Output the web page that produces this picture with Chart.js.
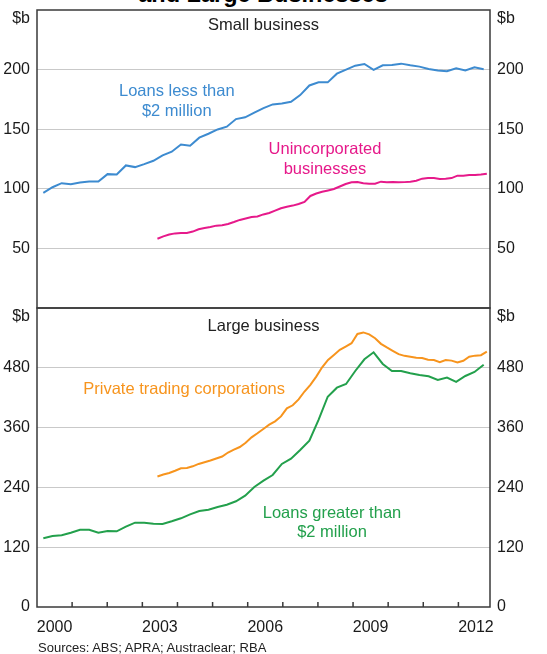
<!DOCTYPE html>
<html lang="en">
<head>
<meta charset="UTF-8">
<title>Business Credit</title>
<script src="https://cdn.jsdelivr.net/npm/chart.js"></script>
<style>
  body { margin: 0; background: #fff; }
  #wrap { position: relative; width: 547px; height: 654px; overflow: hidden; font-family: "Liberation Sans", Arial, sans-serif; }
  #title { position: absolute; left: 0; width: 526px; top: -17px; text-align: center; font-weight: bold; font-size: 23.5px; line-height: 23.5px; color: #000; white-space: nowrap; }
  canvas { position: absolute; left: 0; }
  #top-chart { top: 0; }
  #bottom-chart { top: 298px; }
  #sources { position: absolute; left: 38px; top: 640px; font-size: 13px; line-height: 15px; color: #222; }
</style>
</head>
<body>
<div id="wrap">
  <div id="title">and Large Businesses</div>
  <canvas id="top-chart" width="547" height="310"></canvas>
  <canvas id="bottom-chart" width="547" height="356"></canvas>
  <div id="sources">Sources: ABS; APRA; Austraclear; RBA</div>
</div>

<script>
// x axis runs in decimal years
const xMin = 2000, xMax = 2012.9;
const yearLabels = [2000, 2003, 2006, 2009, 2012];

const quarterlyFirst = 2000.18, quarterlyLast = 2012.72;
// monthly-ish series
const monthlyFirst = 2003.43, monthlyLast = 2012.81;

// Small business, $b
const loansUnder2m = [96.6, 101.3, 104.7, 103.9, 105.3, 106.1, 106.1, 112.3, 112.0, 119.6,
  118.2, 120.7, 123.5, 128.0, 131.1, 137.2, 136.1, 142.9, 146.2, 149.8,
  152.1, 158.5, 160.0, 163.9, 167.7, 170.8, 171.6, 173.0, 178.6, 186.7,
  189.3, 189.3, 196.6, 200.0, 203.3, 204.7, 199.7, 203.6, 203.9, 205.0,
  203.6, 202.5, 200.5, 199.2, 198.6, 201.1, 199.2, 201.9, 200.3];
const unincorporated = [58.1, 60.1, 61.6, 62.6, 62.9, 62.9, 64.1, 66.0, 67.1, 67.9,
  69.1, 69.4, 70.5, 72.1, 73.9, 75.1, 76.4, 76.8, 78.5, 79.7,
  81.7, 83.7, 85.0, 85.9, 87.2, 89.0, 94.0, 96.0, 97.5, 98.6,
  99.8, 101.9, 104.0, 105.5, 105.6, 104.6, 104.3, 104.3, 106.0, 105.5,
  105.8, 105.5, 105.6, 106.0, 106.7, 108.5, 109.1, 109.1, 108.3, 108.4,
  109.0, 111.0, 111.0, 111.5, 111.6, 112.0, 112.7];

// Large business, $b
const privateCorps = [262, 266, 269, 273.5, 278.4, 278.9, 282.3, 287.1, 290.6, 294.1,
  298, 302, 310, 315.8, 321, 329.5, 340.4, 348.6, 357.3, 366,
  372.5, 382.4, 398.7, 404.8, 416.6, 432.4, 445.9, 462.4, 481, 495.8,
  505.9, 516, 522.7, 529.3, 548, 551, 547, 539.3, 528.1, 520.9,
  514.2, 507.4, 504, 502.2, 500.3, 499.5, 496, 495.5, 491.4, 495.6,
  494.4, 490.5, 494.2, 502.1, 504.4, 505.3, 512.3];
const loansOver2m = [137.9, 142.5, 143.9, 149.1, 155.1, 155.1, 149.1, 152.5, 151.9, 161.2,
  169.2, 169.2, 167.2, 166.6, 172.0, 178.0, 186.0, 192.7, 195.3, 200.7,
  205.3, 212.1, 223.4, 240.8, 253.5, 264.9, 287.0, 297.6, 315.1, 333.8,
  375.3, 422.0, 440.1, 447.5, 473.6, 497.1, 511.1, 487.7, 473.6, 473.6,
  469.0, 465.6, 463.0, 455.6, 460.3, 451.7, 463.6, 471.6, 486.3];

const BLUE = '#3d8bd0', PINK = '#e6198a', ORANGE = '#f7941d', GREEN = '#23a04c';
const FONT = '"Liberation Sans", Arial, sans-serif';

Chart.defaults.font.family = FONT;
Chart.defaults.font.size = 16;
Chart.defaults.color = '#1a1a1a';

function spread(values, first, last) {
  const step = (last - first) / (values.length - 1);
  return values.map((v, i) => ({ x: first + i * step, y: v }));
}

function line(data, color) {
  return { data, borderColor: color, borderWidth: 2, pointRadius: 0, tension: 0, fill: false };
}

function yAxis(max, step, showZero, position) {
  return {
    type: 'linear', position, min: 0, max,
    afterFit(s) { s.width = position === 'left' ? 37 : 57; s.paddingTop = 0; s.paddingBottom = 0; },
    border: { display: false },
    grid: {
      display: position === 'left', drawTicks: false, lineWidth: 1,
      color: c => (c.tick && c.tick.value > 0 && c.tick.value < max) ? '#c9c9c9' : 'rgba(0,0,0,0)'
    },
    ticks: {
      stepSize: step, padding: 7,
      callback: v => (v === max || (v === 0 && !showZero)) ? '' : v
    }
  };
}

// frame, panel title, series notes, "$b" and the year tick marks
const panelDecor = {
  id: 'panelDecor',
  afterDraw(chart, args, opts) {
    const { ctx, chartArea: a, scales } = chart;
    ctx.save();
    ctx.font = '16.5px ' + FONT;
    ctx.textBaseline = 'middle';
    ctx.textAlign = 'center';
    ctx.fillStyle = '#222';
    ctx.fillText(opts.title, (a.left + a.right) / 2, a.top + opts.titleOffset);
    opts.notes.forEach(n => {
      ctx.fillStyle = n.color;
      const px = scales.x.getPixelForValue(n.x), py = scales.y.getPixelForValue(n.y);
      n.lines.forEach((t, i) => ctx.fillText(t, px, py + i * 19.5));
    });
    ctx.font = '16px ' + FONT;
    ctx.fillStyle = '#1a1a1a';
    ctx.textAlign = 'right';
    ctx.fillText('$b', a.left - 7, a.top + 9);
    ctx.textAlign = 'left';
    ctx.fillText('$b', a.right + 7, a.top + 9);

    ctx.strokeStyle = '#3a3a3a';
    ctx.lineWidth = 1.5;
    ctx.strokeRect(a.left, a.top, a.right - a.left, a.bottom - a.top);
    if (opts.yearTicks) {
      for (let yr = 2001; yr <= 2012; yr++) {
        const px = scales.x.getPixelForValue(yr);
        ctx.beginPath();
        ctx.moveTo(px, a.bottom);
        ctx.lineTo(px, a.bottom - 5);
        ctx.stroke();
      }
    }
    ctx.restore();
  }
};

new Chart(document.getElementById('top-chart'), {
  type: 'line',
  data: {
    datasets: [
      line(spread(loansUnder2m, quarterlyFirst, quarterlyLast), BLUE),
      line(spread(unincorporated, monthlyFirst, monthlyLast), PINK)
    ]
  },
  options: {
    responsive: false, animation: false,
    layout: { padding: { top: 10, bottom: 2, left: 0, right: 0 } },
    scales: {
      x: { type: 'linear', min: xMin, max: xMax, display: false },
      y: yAxis(250, 50, false, 'left'),
      yRight: yAxis(250, 50, false, 'right')
    },
    plugins: {
      legend: { display: false }, tooltip: { enabled: false },
      panelDecor: {
        title: 'Small business', titleOffset: 15,
        notes: [
          { lines: ['Loans less than', '$2 million'], x: 2003.98, y: 181.5, color: BLUE },
          { lines: ['Unincorporated', 'businesses'], x: 2008.2, y: 132.6, color: PINK }
        ]
      }
    }
  },
  plugins: [panelDecor]
});

new Chart(document.getElementById('bottom-chart'), {
  type: 'line',
  data: {
    datasets: [
      line(spread(privateCorps, monthlyFirst, monthlyLast), ORANGE),
      line(spread(loansOver2m, quarterlyFirst, quarterlyLast), GREEN)
    ]
  },
  options: {
    responsive: false, animation: false,
    layout: { padding: { top: 10, bottom: 0, left: 0, right: 0 } },
    scales: {
      x: {
        type: 'linear', min: xMin, max: xMax,
        afterFit(s) { s.height = 47; s.paddingLeft = 0; s.paddingRight = 0; },
        afterBuildTicks(s) { s.ticks = yearLabels.map(y => ({ value: y + 0.5 })); },
        border: { display: false },
        grid: { display: false, drawTicks: false },
        ticks: { autoSkip: false, maxRotation: 0, padding: 11, callback: v => String(Math.floor(v)) }
      },
      y: yAxis(600, 120, true, 'left'),
      yRight: yAxis(600, 120, true, 'right')
    },
    plugins: {
      legend: { display: false }, tooltip: { enabled: false },
      panelDecor: {
        title: 'Large business', titleOffset: 18, yearTicks: true,
        notes: [
          { lines: ['Private trading corporations'], x: 2004.19, y: 437.5, color: ORANGE },
          { lines: ['Loans greater than', '$2 million'], x: 2008.4, y: 188, color: GREEN }
        ]
      }
    }
  },
  plugins: [panelDecor]
});
</script>
</body>
</html>
